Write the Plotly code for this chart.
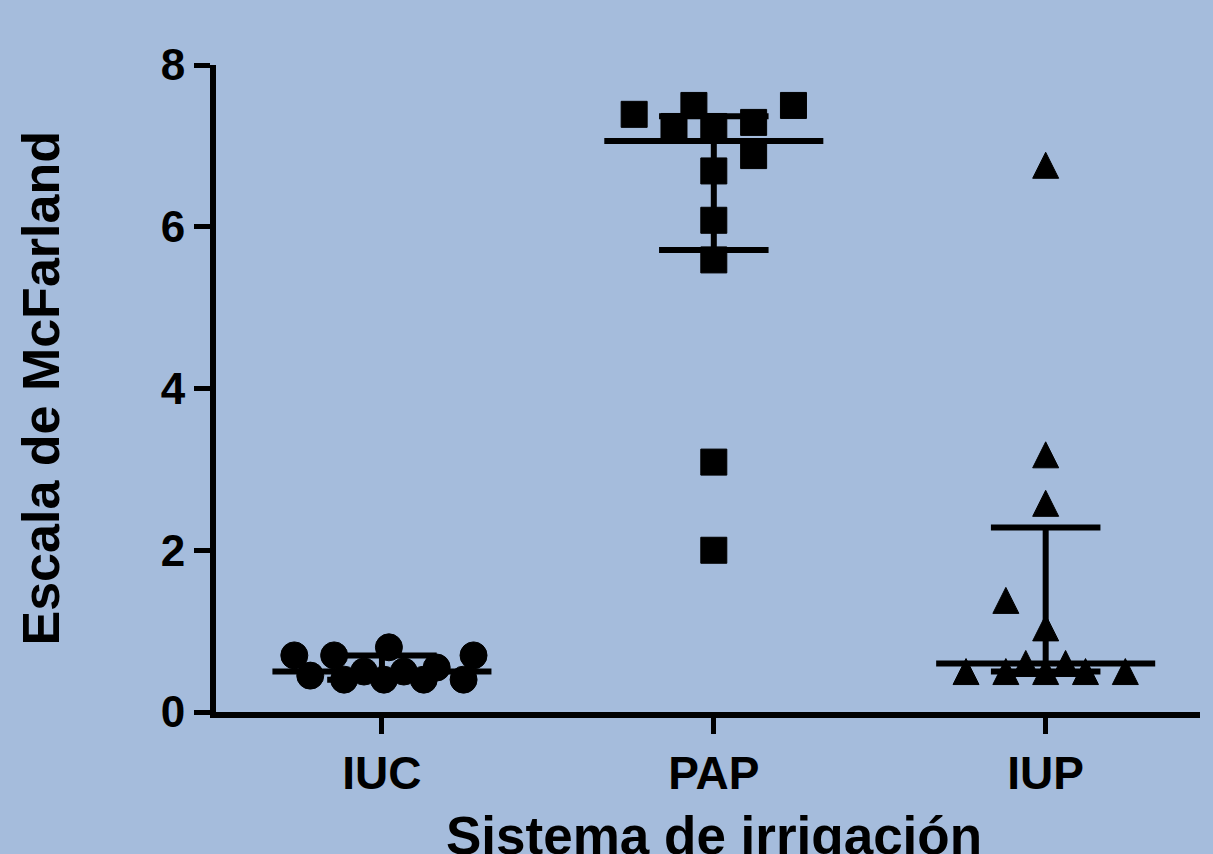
import plotly.graph_objects as go

# ---- data ----
categories = ["IUC", "PAP", "IUP"]
iuc_values = [0.40, 0.40, 0.40, 0.40, 0.45, 0.50, 0.50, 0.55, 0.70, 0.70, 0.70, 0.80]
pap_values = [2.00, 3.09, 5.59, 6.08, 6.69, 6.88, 7.24, 7.24, 7.29, 7.39, 7.50, 7.50]
iup_values = [0.50, 0.50, 0.50, 0.50, 0.50, 0.60, 0.60, 1.04, 1.38, 2.58, 3.18, 6.76]
y_ticks = [0, 2, 4, 6, 8]
x_title = "Sistema de irrigación"
y_title = "Escala de McFarland"

# horizontal scatter jitter (in category units), one per point
iuc_jitter = [-0.114, 0.006, 0.126, 0.246, -0.216, -0.054, 0.066, 0.165, -0.264, -0.144, 0.276, 0.021]
pap_jitter = [0, 0, 0, 0, 0, 0.12, -0.12, 0, 0.12, -0.24, -0.06, 0.24]
iup_jitter = [-0.24, -0.12, 0, 0.12, 0.24, -0.06, 0.06, 0, -0.12, 0, 0, 0]

series = [
    (iuc_values, iuc_jitter, dict(symbol="circle", size=27)),
    (pap_values, pap_jitter, dict(symbol="square", size=26)),
    (iup_values, iup_jitter, dict(symbol="arrow-down", size=26, angle=180, standoff=13)),
]


def quantile(vals, p):
    s = sorted(vals)
    n = len(s)
    h = (n + 1) * p
    lo = int(h)
    frac = h - lo
    if lo < 1:
        return s[0]
    if lo >= n:
        return s[-1]
    return s[lo - 1] + frac * (s[lo] - s[lo - 1])


fig = go.Figure()

MED_HALF = 0.33
IQR_HALF = 0.165

for i, (vals, jit, mk) in enumerate(series):
    med = quantile(vals, 0.5)
    q1 = quantile(vals, 0.25)
    q3 = quantile(vals, 0.75)
    xs = [i - MED_HALF, i + MED_HALF, None,
          i - IQR_HALF, i + IQR_HALF, None,
          i - IQR_HALF, i + IQR_HALF, None,
          i, i]
    ys = [med, med, None, q1, q1, None, q3, q3, None, q1, q3]
    fig.add_trace(go.Scatter(x=xs, y=ys, mode="lines",
                             line=dict(color="black", width=6),
                             hoverinfo="skip", showlegend=False, cliponaxis=False))
    fig.add_trace(go.Scatter(
        x=[i + j for j in jit], y=vals, mode="markers",
        marker=dict(color="black", line=dict(color="black", width=1), **mk),
        showlegend=False, cliponaxis=False, name=categories[i]))

font_family = "Liberation Sans, Arial, sans-serif"
BG = "#a5bcdc"

fig.update_layout(
    width=1213, height=854,
    margin=dict(l=216, r=13, t=65, b=142, autoexpand=False),
    paper_bgcolor=BG,
    plot_bgcolor="rgba(0,0,0,0)",
    font=dict(family=font_family, color="black", weight="bold"),
    xaxis=dict(
        range=[-0.5, 2.465], automargin=False,
        tickmode="array", tickvals=[0, 1, 2], ticktext=categories,
        showgrid=False, zeroline=False,
        showline=True, linecolor="black", linewidth=6,
        ticks="outside", ticklen=16, tickwidth=5, tickcolor="black",
        tickfont=dict(size=46, family=font_family, weight="bold"),
    ),
    yaxis=dict(
        range=[0, 8], automargin=False,
        tickmode="array", tickvals=y_ticks,
        showgrid=False, zeroline=False,
        showline=True, linecolor="black", linewidth=6,
        ticks="outside", ticklen=16, tickwidth=5, tickcolor="black",
        tickfont=dict(size=44, family=font_family, weight="bold"),
    ),
    annotations=[
        dict(text=x_title, xref="paper", yref="paper", x=0.5, y=0,
             xanchor="center", yanchor="top", xshift=6, yshift=-92,
             showarrow=False,
             font=dict(size=53, family=font_family, weight="bold", color="black")),
        dict(text=y_title, xref="paper", yref="paper", x=0, y=0.5,
             xanchor="center", yanchor="middle", xshift=-176, textangle=-90,
             showarrow=False,
             font=dict(size=52, family=font_family, weight="bold", color="black")),
    ],
)

fig.write_html(
    "out.html",
    config={"displayModeBar": False},
    post_script="document.body.style.margin='0';document.body.style.background='%s';" % BG,
)
